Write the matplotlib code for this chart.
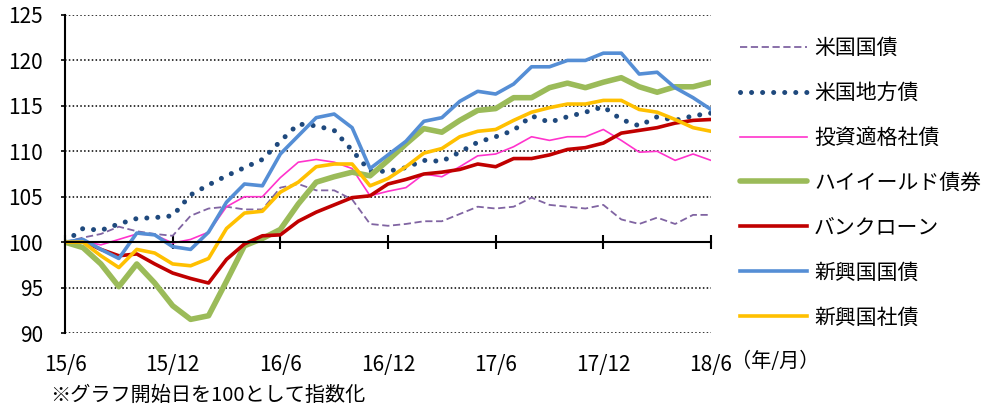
import numpy as np
import matplotlib
matplotlib.use("Agg")
import matplotlib.pyplot as plt

plt.rcParams['font.family'] = ['Noto Sans CJK JP', 'DejaVu Sans']

# monthly index values, 15/6 .. 18/6 (37 months)
months = np.arange(37)

us_treasury = [100.0, 100.5, 100.9, 101.7, 101.2, 100.9, 100.7, 102.9, 103.7, 103.9,
               103.6, 103.6, 106.0, 106.4, 105.7, 105.7, 104.7, 102.0, 101.8, 102.0,
               102.3, 102.3, 103.1, 103.9, 103.7, 103.9, 104.9, 104.1, 103.9, 103.7,
               104.1, 102.5, 102.0, 102.7, 102.0, 103.0, 103.0]
us_muni = [100.0, 101.5, 101.3, 102.0, 102.6, 102.7, 102.9, 105.2, 106.3, 107.3,
           108.2, 109.1, 111.1, 113.0, 112.8, 112.3, 110.1, 107.8, 107.8, 108.2,
           109.0, 108.9, 109.9, 111.0, 111.6, 112.3, 113.9, 113.2, 113.8, 114.3,
           114.9, 113.5, 112.8, 113.8, 113.4, 113.9, 114.2]
inv_grade = [100.0, 100.1, 99.7, 100.3, 100.9, 100.8, 99.9, 100.3, 101.1, 103.9,
             105.0, 105.0, 107.1, 108.8, 109.1, 108.8, 108.1, 105.1, 105.6, 106.0,
             107.5, 107.2, 108.3, 109.5, 109.7, 110.5, 111.6, 111.2, 111.6, 111.6,
             112.4, 111.2, 109.9, 110.0, 109.0, 109.7, 109.0]
high_yield = [100.0, 99.4, 97.6, 95.1, 97.6, 95.5, 93.0, 91.5, 91.9, 95.7,
              99.6, 100.4, 101.4, 104.2, 106.6, 107.2, 107.7, 107.3, 109.0, 110.8,
              112.5, 112.1, 113.4, 114.5, 114.7, 115.9, 115.9, 117.0, 117.5, 117.0,
              117.6, 118.1, 117.1, 116.5, 117.1, 117.1, 117.6]
bank_loan = [100.0, 100.1, 99.2, 98.5, 98.7, 97.6, 96.6, 96.0, 95.5, 98.1,
             99.8, 100.7, 100.8, 102.3, 103.3, 104.1, 104.9, 105.1, 106.4, 106.9,
             107.5, 107.7, 108.0, 108.6, 108.3, 109.2, 109.2, 109.6, 110.2, 110.4,
             110.9, 112.0, 112.3, 112.6, 113.1, 113.4, 113.5]
em_sov = [100.0, 100.3, 99.2, 98.2, 101.0, 100.8, 99.5, 99.2, 101.1, 104.4,
          106.4, 106.2, 109.7, 111.7, 113.7, 114.1, 112.6, 108.1, 109.6, 111.1,
          113.3, 113.7, 115.5, 116.6, 116.3, 117.4, 119.3, 119.3, 120.0, 120.0,
          120.8, 120.8, 118.5, 118.7, 117.0, 115.9, 114.6]
em_corp = [100.0, 100.0, 98.5, 97.2, 99.2, 98.8, 97.6, 97.4, 98.2, 101.5,
           103.2, 103.4, 105.5, 106.6, 108.3, 108.6, 108.6, 106.2, 107.0, 108.3,
           109.8, 110.3, 111.6, 112.2, 112.4, 113.4, 114.3, 114.8, 115.2, 115.2,
           115.6, 115.6, 114.6, 114.3, 113.5, 112.6, 112.2]

tick_pos = [0, 6, 12, 18, 24, 30, 36]
tick_labels = ['15/6', '15/12', '16/6', '16/12', '17/6', '17/12', '18/6']
y_ticks = [90, 95, 100, 105, 110, 115, 120, 125]

fig = plt.figure(figsize=(9.82, 4.09), dpi=100)
ax = fig.add_axes([65/982, 1-333/409, (711-65)/982, (333-15)/409])

ax.plot(months, us_treasury, color='#8064A2', lw=1.3, ls=(0, (4, 2)), label='米国国債')
ax.plot(months, us_muni, color='#1F497D', lw=3.6, ls=(0, (0.01, 2.2)),
        dash_capstyle='round', label='米国地方債')
ax.plot(months, inv_grade, color='#FF33CC', lw=1.2, label='投資適格社債')
ax.plot(months, high_yield, color='#9BBB59', lw=4.0, solid_capstyle='round', label='ハイイールド債券')
ax.plot(months, bank_loan, color='#C00000', lw=2.6, label='バンクローン')
ax.plot(months, em_sov, color='#558ED5', lw=2.6, label='新興国国債')
ax.plot(months, em_corp, color='#FFC000', lw=2.6, label='新興国社債')

ax.set_xlim(0, 36)
ax.set_ylim(90, 125)
ax.set_yticks(y_ticks)
ax.tick_params(axis='y', length=3, width=1.2, labelsize=15, pad=13)

# dotted gridlines (the 100 line is the x axis itself)
for v in y_ticks:
    if v != 100:
        ax.axhline(v, color='black', lw=1.1, ls=(0, (1, 1.5)), zorder=0)

ax.spines['top'].set_visible(False)
ax.spines['right'].set_visible(False)
ax.spines['left'].set_linewidth(1.5)
ax.spines['bottom'].set_position(('data', 100))
ax.spines['bottom'].set_linewidth(1.5)
ax.set_xticks(tick_pos)
ax.tick_params(axis='x', direction='inout', length=10, width=1.5, labelbottom=False)

# tick labels at the bottom of the plot
sec = ax.secondary_xaxis(0)
sec.set_xticks(tick_pos)
sec.set_xticklabels(tick_labels)
sec.tick_params(length=0, labelsize=15, pad=15)
sec.spines['bottom'].set_visible(False)

fig.text(731/982, 1-362/409, '（年/月）', fontsize=14.5, va='center', ha='left')
fig.text(50/982, 1-395/409, '※グラフ開始日を100として指数化', fontsize=14.5, va='center', ha='left')

fig.legend(loc='upper left', bbox_to_anchor=(740/982, 1-37/409), frameon=False,
           fontsize=15, handlelength=3.2, handletextpad=0.35, labelspacing=1.1,
           borderpad=0, borderaxespad=0)

fig.savefig('out.png', dpi=100)
